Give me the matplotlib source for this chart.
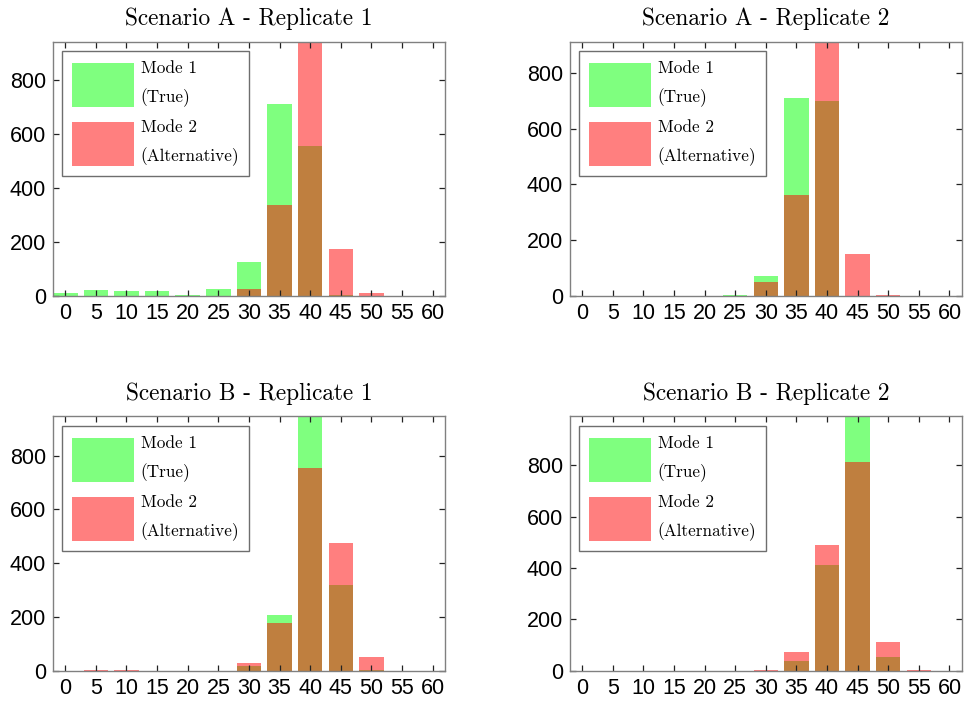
import numpy as np
import matplotlib
matplotlib.use("Agg")
import matplotlib.pyplot as plt

# bin centres
bins = [0, 5, 10, 15, 20, 25, 30, 35, 40, 45, 50, 55, 60]

titles = ["Scenario A - Replicate 1", "Scenario A - Replicate 2",
          "Scenario B - Replicate 1", "Scenario B - Replicate 2"]

# counts per bin, mode 1 (true) and mode 2 (alternative)
a1_mode1 = [10, 22, 18, 17, 5, 26, 127, 708, 555, 2, 0, 0, 0]
a1_mode2 = [0, 0, 0, 0, 0, 0, 27, 336, 940, 175, 12, 0, 0]
a2_mode1 = [0, 0, 0, 0, 0, 4, 72, 709, 700, 0, 0, 0, 0]
a2_mode2 = [0, 0, 0, 0, 0, 1, 51, 362, 912, 151, 4, 0, 0]
b1_mode1 = [0, 0, 0, 0, 0, 0, 17, 208, 946, 319, 3, 0, 0]
b1_mode2 = [0, 3, 3, 0, 0, 0, 28, 178, 752, 475, 51, 0, 0]
b2_mode1 = [0, 0, 0, 0, 0, 0, 0, 39, 412, 991, 52, 0, 0]
b2_mode2 = [0, 0, 0, 0, 0, 0, 3, 71, 490, 813, 112, 3, 0]

mode1 = [a1_mode1, a2_mode1, b1_mode1, b2_mode1]
mode2 = [a1_mode2, a2_mode2, b1_mode2, b2_mode2]

fig = plt.figure(figsize=(9.69, 7.06), dpi=100)

# [left, bottom, width, height]
lefts = [0.0547, 0.588, 0.0547, 0.588]
bottoms = [0.5807, 0.5807, 0.050, 0.050]
w, h = 0.4045, 0.3603

serif = "cmr10"
spine_col = "#808080"

for k in range(4):
    ax = fig.add_axes([lefts[k], bottoms[k], w, h])
    m1 = np.array(mode1[k])
    m2 = np.array(mode2[k])
    ax.bar(bins, m1, width=4, color=(0, 1, 0), alpha=0.5, edgecolor="none",
           label="Mode 1\n(True)")
    ax.bar(bins, m2, width=4, color=(1, 0, 0), alpha=0.5, edgecolor="none",
           label="Mode 2\n(Alternative)")
    ax.set_xlim(-2, 62)
    ax.set_ylim(0, max(m1.max(), m2.max()))
    ax.set_xticks(bins)
    ax.set_yticks([0, 200, 400, 600, 800])
    ax.tick_params(direction="in", top=True, right=True, length=4,
                   width=0.9, color="#222222", labelsize=15.5, pad=5)
    for lab in ax.get_xticklabels() + ax.get_yticklabels():
        lab.set_fontfamily("Liberation Sans")
    for s in ax.spines.values():
        s.set_color(spine_col)
        s.set_linewidth(1.0)
    ax.set_title(titles[k], fontfamily=serif, fontsize=16.8, pad=12)
    leg = ax.legend(loc="upper left", prop={"family": serif, "size": 12.4},
                    handlelength=3.6, handleheight=3.6, handletextpad=0.4,
                    labelspacing=0.7, borderpad=0.55, borderaxespad=0.55,
                    fancybox=False, framealpha=1, edgecolor="#6e6e6e")
    leg.get_frame().set_linewidth(1.0)
    for t in leg.get_texts():
        t.set_linespacing(1.9)

fig.savefig("out.png", dpi=100)
